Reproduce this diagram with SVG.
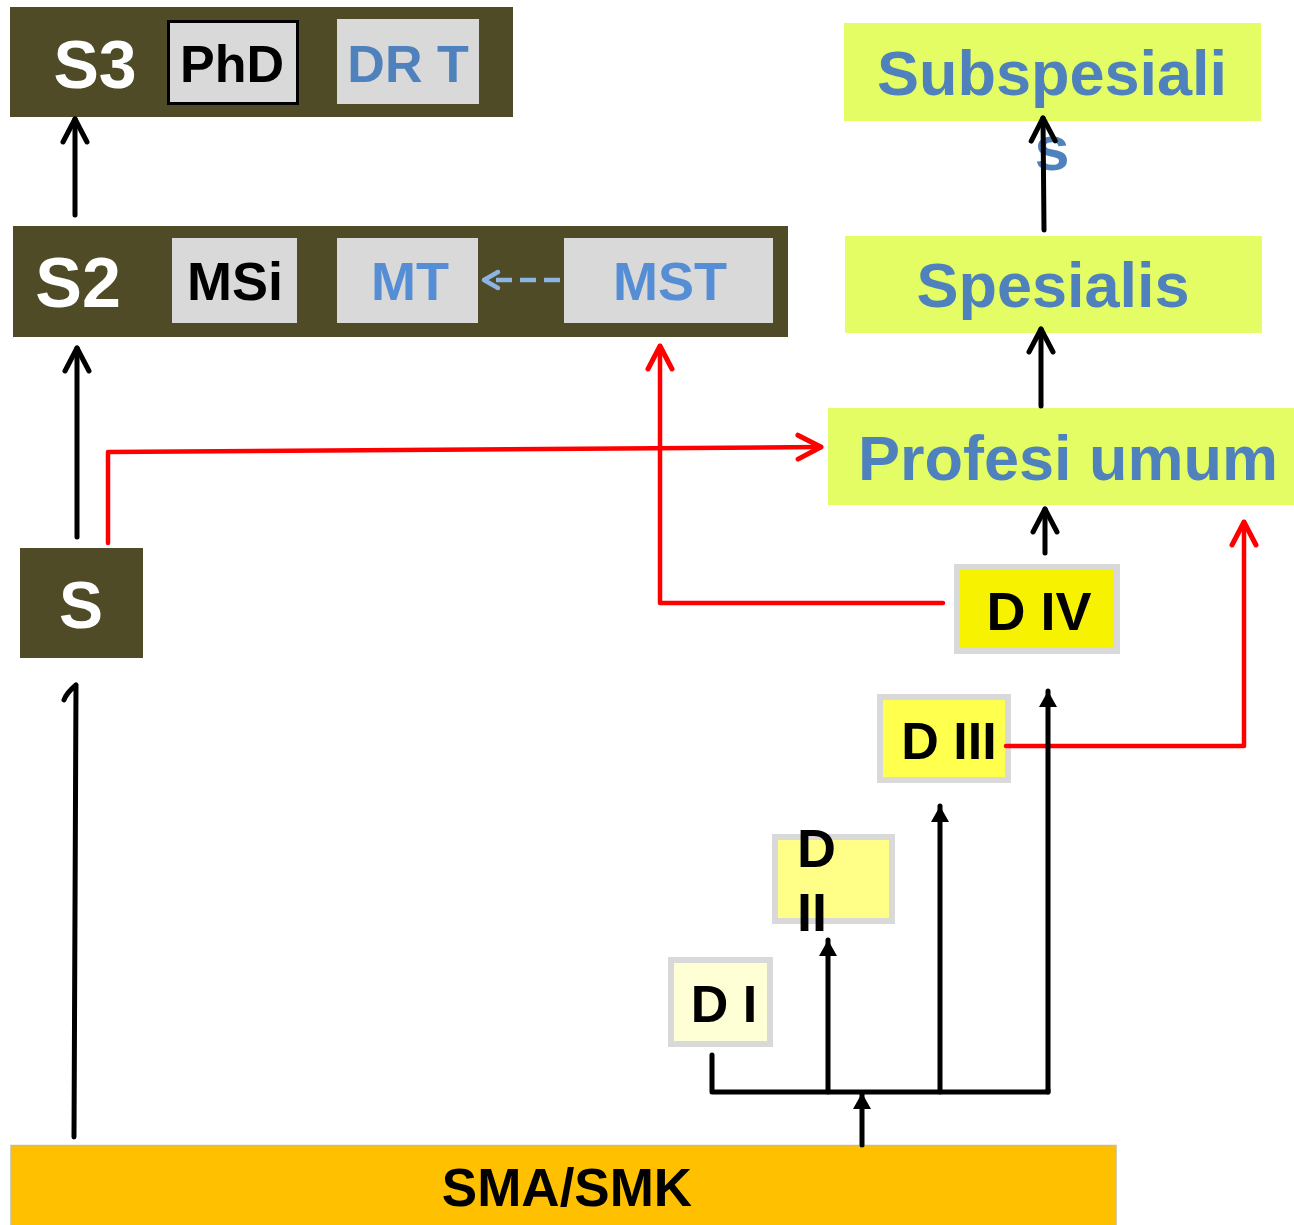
<svg xmlns="http://www.w3.org/2000/svg" width="1294" height="1225" viewBox="0 0 1294 1225">
<defs>
<style>
text{font-family:"Liberation Sans",Arial,sans-serif;font-weight:bold;text-anchor:middle}
.olive{fill:#4E4B26}
.gray{fill:#D9D9D9}
.lime{fill:#E5FD65}
.w{fill:#FFFFFF}
.k{fill:#000000}
.b{fill:#4F81BD}
.b2{fill:#558ED5}
.dbox{stroke:#D9D9D9;stroke-width:6}
.blk{fill:none;stroke:#000;stroke-width:5;stroke-linecap:round;stroke-linejoin:round}
.red{fill:none;stroke:#FF0000;stroke-width:4.5;stroke-linecap:round;stroke-linejoin:round}
.dash{fill:none;stroke:#8DB4E2;stroke-width:4.5;stroke-dasharray:16 8}
</style>
<marker id="chevK" markerUnits="userSpaceOnUse" viewBox="-30 -20 36 40" refX="0" refY="0" markerWidth="36" markerHeight="40" orient="auto" overflow="visible">
<path d="M-23,-12 L0,0 L-23,12" fill="none" stroke="#000" stroke-width="5" stroke-linecap="round" stroke-linejoin="round"/>
</marker>
<marker id="chevR" markerUnits="userSpaceOnUse" viewBox="-30 -20 36 40" refX="0" refY="0" markerWidth="36" markerHeight="40" orient="auto" overflow="visible">
<path d="M-23,-12 L0,0 L-23,12" fill="none" stroke="#FF0000" stroke-width="5" stroke-linecap="round" stroke-linejoin="round"/>
</marker>
<marker id="chevB" markerUnits="userSpaceOnUse" viewBox="-30 -20 36 40" refX="0" refY="0" markerWidth="36" markerHeight="40" orient="auto" overflow="visible">
<path d="M-14,-8 L0,0 L-14,8" fill="none" stroke="#8DB4E2" stroke-width="4.5" stroke-linecap="round" stroke-linejoin="round"/>
</marker>
<marker id="tri" markerUnits="userSpaceOnUse" viewBox="-20 -12 24 24" refX="0" refY="0" markerWidth="24" markerHeight="24" orient="auto" overflow="visible">
<path d="M0,0 L-16,-9 L-16,9 Z" fill="#000"/>
</marker>
</defs>
<rect width="1294" height="1225" fill="#FFFFFF"/>

<g id="node-s3">
<rect class="olive" x="10" y="7" width="503" height="110"/>
<text class="w" x="95" y="88" font-size="68">S3</text>
<rect class="gray" x="168.5" y="21.5" width="129" height="82" stroke="#000" stroke-width="3"/>
<text class="k" x="232" y="82" font-size="52">PhD</text>
<rect class="gray" x="337" y="19" width="142" height="85"/>
<text class="b" x="408" y="82" font-size="52">DR T</text>
</g>

<g id="node-s2">
<rect class="olive" x="13" y="226" width="775" height="111"/>
<text class="w" x="78" y="307" font-size="70">S2</text>
<rect class="gray" x="172" y="238" width="125" height="85"/>
<text class="k" x="235" y="300" font-size="54">MSi</text>
<rect class="gray" x="337" y="238" width="141" height="85"/>
<text class="b2" x="410" y="300" font-size="54">MT</text>
<rect class="gray" x="564" y="238" width="209" height="85"/>
<text class="b2" x="670" y="300" font-size="54">MST</text>
</g>

<g id="node-subspesialis">
<rect class="lime" x="844" y="23" width="417" height="98"/>
<text class="b" x="1052" y="95" font-size="63">Subspesiali</text>
<text class="b" x="1052" y="170" font-size="63">s</text>
</g>

<g id="node-spesialis">
<rect class="lime" x="845" y="236" width="417" height="97"/>
<text class="b" x="1053" y="307" font-size="63">Spesialis</text>
</g>

<g id="node-profesi">
<rect class="lime" x="828" y="408" width="466" height="97"/>
<text class="b" x="1068" y="480" font-size="63">Profesi umum</text>
</g>

<g id="node-s">
<rect class="olive" x="20" y="548" width="123" height="110"/>
<text class="w" x="81" y="628" font-size="66">S</text>
</g>

<g id="node-d4">
<rect class="dbox" x="957" y="567" width="160" height="84" fill="#F7F200"/>
<text class="k" x="1039" y="630" font-size="54">D IV</text>
</g>

<g id="node-d3">
<rect class="dbox" x="880" y="697" width="128" height="83" fill="#FFFF4D"/>
<text class="k" x="949" y="759" font-size="52">D III</text>
</g>

<g id="node-d2">
<rect class="dbox" x="775" y="837" width="117" height="84" fill="#FFFF88"/>
<text class="k" x="797" y="867" font-size="54" style="text-anchor:start">D</text>
<text class="k" x="797" y="931" font-size="54" style="text-anchor:start">II</text>
</g>

<g id="node-d1">
<rect class="dbox" x="671" y="960" width="99" height="84" fill="#FFFFD6"/>
<text class="k" x="724" y="1022" font-size="52">D I</text>
</g>

<g id="node-sma">
<rect x="11" y="1145.5" width="1105" height="85" fill="#FFC000" stroke="#C4BC9C" stroke-width="1.5"/>
<text class="k" x="567" y="1206" font-size="53">SMA/SMK</text>
</g>

<g id="connectors">
<line class="blk" x1="75" y1="215" x2="75" y2="119" marker-end="url(#chevK)"/>
<line class="blk" x1="77" y1="537" x2="77" y2="348" marker-end="url(#chevK)"/>
<path class="blk" d="M74,1137 L76,685 M76,685 C70,690 66,694 64,700"/>
<line class="blk" x1="1044" y1="230" x2="1043" y2="118" marker-end="url(#chevK)"/>
<line class="blk" x1="1041" y1="406" x2="1041" y2="329" marker-end="url(#chevK)"/>
<line class="blk" x1="1045" y1="553" x2="1045" y2="509" marker-end="url(#chevK)"/>
<line class="dash" x1="560" y1="280" x2="484" y2="280" marker-end="url(#chevB)"/>
<path class="red" d="M108,543 L108,452 L821,447" marker-end="url(#chevR)"/>
<path class="red" d="M943,603 L660,603 L660,346" marker-end="url(#chevR)"/>
<path class="red" d="M1006,746 L1244,746 L1244,522" marker-end="url(#chevR)"/>
<line class="blk" x1="862" y1="1145" x2="862" y2="1093" stroke-linecap="butt" marker-end="url(#tri)"/>
<path class="blk" d="M712,1055 L712,1092 L1048,1092 L1048,1090"/>
<line class="blk" x1="828" y1="1092" x2="828" y2="940" stroke-linecap="butt" marker-end="url(#tri)"/>
<line class="blk" x1="940" y1="1092" x2="940" y2="806" stroke-linecap="butt" marker-end="url(#tri)"/>
<line class="blk" x1="1048" y1="1092" x2="1048" y2="691" stroke-linecap="butt" marker-end="url(#tri)"/>
</g>
</svg>
